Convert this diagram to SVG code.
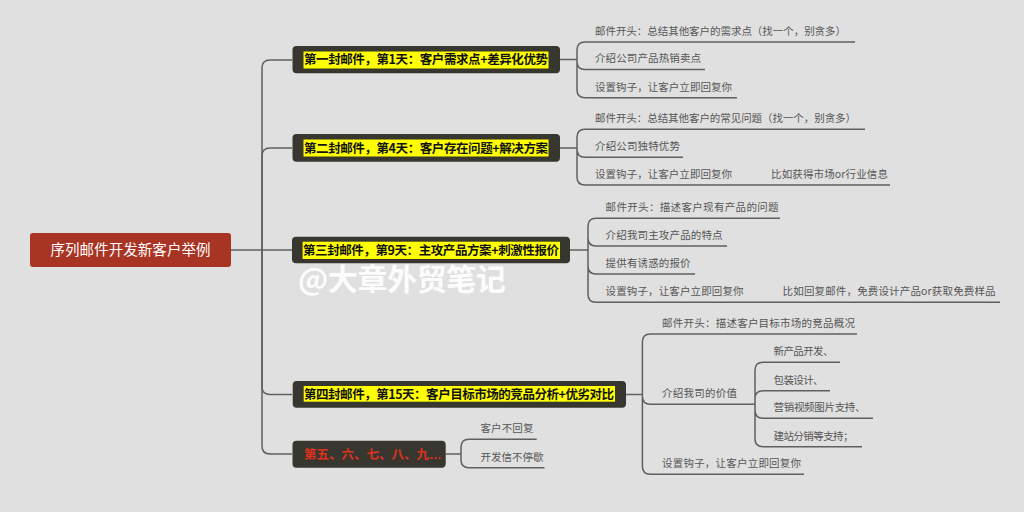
<svg xmlns="http://www.w3.org/2000/svg" width="1024" height="512" viewBox="0 0 1024 512">
<style>
.ln{fill:none;stroke:#5f5f5f;stroke-width:1.5}
.nd{fill:#37372f}
.hl{fill:#ffff00}
.nt{font-family:"Noto Sans CJK SC","Microsoft YaHei",sans-serif;font-size:12.5px;font-weight:700;fill:#111}
.ct{font-family:"Noto Sans CJK SC","Microsoft YaHei",sans-serif;font-size:10.5px;fill:#555}
</style>
<rect width="1024" height="512" fill="#e0e0e0"/>
<g id="connectors">
<path class="ln" d="M231,250 H292"/>
<path class="ln" d="M262,250 V68 Q262,60 270,60 H292"/>
<path class="ln" d="M262,250 V156 Q262,148 270,148 H292"/>
<path class="ln" d="M262,250 V386.5 Q262,394.5 270,394.5 H292"/>
<path class="ln" d="M262,250 V446 Q262,454 270,454 H292"/>
<path class="ln" d="M560,59.6 H577 M577,59.6 V50 Q577,42 585,42 H855 M577,59.6 V61.5 Q577,69.5 585,69.5 H705 M577,59.6 V89.7 Q577,97.7 585,97.7 H737"/>
<path class="ln" d="M560,148 H577 M577,148 V137.3 Q577,129.3 585,129.3 H865 M577,148 V149.3 Q577,157.3 585,157.3 H683 M577,148 V177 Q577,185 585,185 H890"/>
<path class="ln" d="M570,250 H588 M588,250 V226.3 Q588,218.3 596,218.3 H780 M588,250 V238 Q588,246 596,246 H727 M588,250 V266 Q588,274 596,274 H695 M588,250 V294.3 Q588,302.3 596,302.3 H1000"/>
<path class="ln" d="M626,394.5 H642.4 M642.4,394.5 V342 Q642.4,334 650.4,334 H857 M642.4,394.5 V396.3 Q642.4,404.3 650.4,404.3 H755 M642.4,394.5 V466.3 Q642.4,474.3 650.4,474.3 H804"/>
<path class="ln" d="M755,404.3 V370.3 Q755,362.3 763,362.3 H840 M755,404.3 V398.7 Q755,390.7 763,390.7 H830 M755,404.3 V410.3 Q755,418.3 763,418.3 H873 M755,404.3 V438.7 Q755,446.7 763,446.7 H862"/>
<path class="ln" d="M445.7,454 H461 M461,454 V447.3 Q461,439.3 469,439.3 H536.7 M461,454 V459.7 Q461,467.7 469,467.7 H544.5"/>
</g>
<g id="root">
<rect x="30" y="233" width="201" height="34" rx="3" fill="#a83424"/>
<text x="130.5" y="254.5" text-anchor="middle" font-family="'Noto Sans CJK SC','Microsoft YaHei',sans-serif" font-size="14.5" fill="#fff" textLength="160">序列邮件开发新客户举例</text>
</g>
<g id="node1">
<rect class="nd" x="292.5" y="46" width="267.5" height="27.3" rx="4"/>
<rect class="hl" x="303.5" y="51.5" width="245" height="17"/>
<text class="nt" x="304" y="64.3" textLength="244">第一封邮件，第1天：客户需求点+差异化优势</text>
<text class="ct" x="595" y="34.5" textLength="251">邮件开头：总结其他客户的需求点（找一个，别贪多）</text>
<text class="ct" x="595" y="62.3" textLength="106">介绍公司产品热销卖点</text>
<text class="ct" x="595" y="90.5" textLength="137">设置钩子，让客户立即回复你</text>
</g>
<g id="node2">
<rect class="nd" x="292.5" y="134" width="267.5" height="27.7" rx="4"/>
<rect class="hl" x="303.5" y="139.5" width="245" height="17"/>
<text class="nt" x="304" y="152.5" textLength="244">第二封邮件，第4天：客户存在问题+解决方案</text>
<text class="ct" x="595" y="122.1" textLength="261">邮件开头：总结其他客户的常见问题（找一个，别贪多）</text>
<text class="ct" x="595" y="150.1" textLength="85">介绍公司独特优势</text>
<text class="ct" x="595" y="177.8" textLength="137">设置钩子，让客户立即回复你</text>
<text class="ct" x="771" y="177.8" textLength="117">比如获得市场or行业信息</text>
</g>
<g id="node3">
<rect class="nd" x="292" y="236.7" width="278" height="26.6" rx="4"/>
<rect class="hl" x="302.6" y="241.7" width="257.4" height="17.3"/>
<text class="nt" x="303" y="254.6" textLength="256">第三封邮件，第9天：主攻产品方案+刺激性报价</text>
<text class="ct" x="605.6" y="211.1" textLength="173">邮件开头：描述客户现有产品的问题</text>
<text class="ct" x="605.6" y="238.8" textLength="117">介绍我司主攻产品的特点</text>
<text class="ct" x="605.6" y="266.8" textLength="85">提供有诱惑的报价</text>
<text class="ct" x="605.6" y="295.1" textLength="138">设置钩子，让客户立即回复你</text>
<text class="ct" x="782.6" y="295.1" textLength="213">比如回复邮件，免费设计产品or获取免费样品</text>
</g>
<g id="watermark">
<text x="298" y="290" font-family="'Noto Sans CJK SC','Microsoft YaHei',sans-serif" font-size="30" font-weight="700" fill="#ffffff" fill-opacity="0.92" textLength="208">@大章外贸笔记</text>
</g>
<g id="node4">
<rect class="nd" x="292.7" y="381" width="333.3" height="26.7" rx="4"/>
<rect class="hl" x="303.7" y="386" width="311.3" height="15.7"/>
<text class="nt" x="304" y="398.8" textLength="310">第四封邮件，第15天：客户目标市场的竞品分析+优劣对比</text>
<text class="ct" x="662" y="326.8" textLength="193">邮件开头：描述客户目标市场的竞品概况</text>
<text class="ct" x="662" y="397.1" textLength="75">介绍我司的价值</text>
<text class="ct" x="662" y="467.1" textLength="139">设置钩子，让客户立即回复你</text>
<text class="ct" x="773.5" y="355.1" textLength="60">新产品开发、</text>
<text class="ct" x="773.5" y="383.5" textLength="50">包装设计、</text>
<text class="ct" x="773.5" y="411.1" textLength="92">营销视频图片支持、</text>
<text class="ct" x="773.5" y="439.5" textLength="80">建站分销等支持；</text>
</g>
<g id="node5">
<rect class="nd" x="292.5" y="440.7" width="153.2" height="27" rx="4"/>
<text class="nt" x="304" y="458.5" style="fill:#e0301e">第五、六、七、八、九<tspan font-family="'Liberation Sans',sans-serif">…</tspan></text>
<text class="ct" x="480.4" y="432.1" textLength="53">客户不回复</text>
<text class="ct" x="480.4" y="460.5" textLength="63">开发信不停歇</text>
</g>
</svg>
